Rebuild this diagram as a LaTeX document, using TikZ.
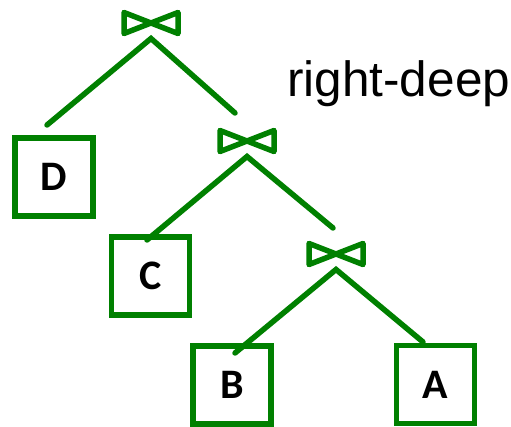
\documentclass[tikz,border=0pt]{standalone}
\usepackage{fontspec}
\setmainfont{Liberation Sans}
\newfontfamily\boxfont{Carlito}
\definecolor{treegreen}{RGB}{0,128,0}
\tikzset{
  edge/.style={treegreen, line width=5.5pt, line cap=round},
  relbox/.style={draw=treegreen, line width=5.5pt, minimum size=78pt, inner sep=0pt,
    font=\boxfont\bfseries\fontsize{42}{42}\selectfont},
  bowtie/.pic={
    \draw[treegreen, line width=5.5pt, line join=round]
      (-27,-10.5) -- (27,10.5) -- (27,-10.5) -- (-27,10.5) -- cycle;
    \coordinate (-apex) at (0,15.5);
  }
}
\begin{document}
\begin{tikzpicture}[x=1pt,y=-1pt]
\useasboundingbox (0,0) rectangle (511,427);
%
\pic (j1) at (151,23) {bowtie};
\pic (j2) at (247,141) {bowtie};
\pic (j3) at (336,254) {bowtie};
%
\node[relbox] (D) at (54,177) {D};
\node[relbox] (C) at (150.5,276) {C};
\node[relbox] (B) at (232,385) {B};
\node[relbox] (A) at (435.5,384.5) {A};
%
\coordinate (d1) at (47,125);
\coordinate (r1) at (235,113);
\coordinate (c2) at (147,240);
\coordinate (r2) at (333,228);
\coordinate (b3) at (235,353);
\coordinate (a3) at (423,342);
%
\draw[edge] (d1) -- (j1-apex) -- (r1);
\draw[edge] (c2) -- (j2-apex) -- (r2);
\draw[edge] (b3) -- (j3-apex) -- (a3);
%
\node[anchor=base west, inner sep=0pt, font=\fontsize{49.5}{49.5}\selectfont] (title) at (287,97) {right-deep};
\end{tikzpicture}
\end{document}
